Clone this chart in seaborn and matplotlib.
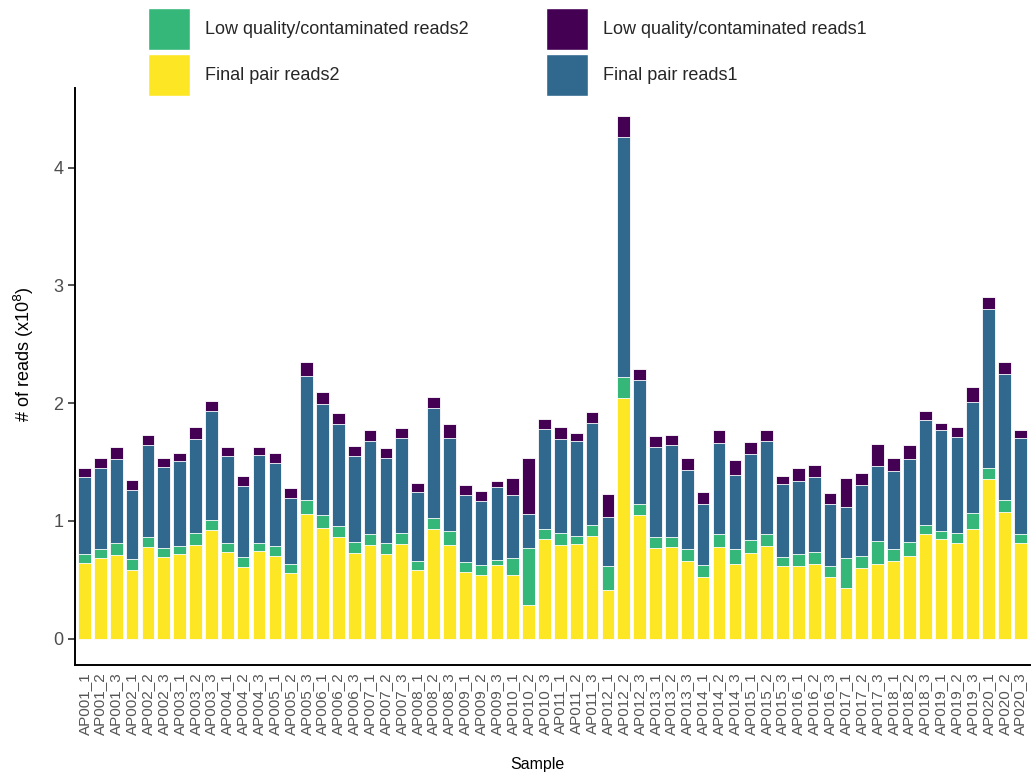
import matplotlib
matplotlib.use("Agg")
import matplotlib.pyplot as plt
from matplotlib.patches import Patch
import seaborn as sns
import numpy as np

# Samples: 20 patients x 3 replicates
samples = [f"AP{p:03d}_{r}" for p in range(1, 21) for r in (1, 2, 3)]

# Read counts per read of the pair (x10^8); reads1 and reads2 carry the same counts
final_pair = [
    0.647, 0.684, 0.714, 0.584, 0.775, 0.690, 0.720, 0.799, 0.927, 0.736,
    0.608, 0.745, 0.699, 0.556, 1.058, 0.942, 0.866, 0.729, 0.796, 0.723,
    0.805, 0.587, 0.936, 0.796, 0.571, 0.541, 0.623, 0.538, 0.289, 0.851,
    0.799, 0.805, 0.872, 0.416, 2.043, 1.055, 0.769, 0.775, 0.663, 0.523,
    0.775, 0.632, 0.729, 0.790, 0.617, 0.617, 0.638, 0.523, 0.435, 0.599,
    0.638, 0.660, 0.705, 0.888, 0.851, 0.812, 0.936, 1.353, 1.073, 0.815,
]
low_quality = [
    0.076, 0.082, 0.101, 0.091, 0.091, 0.079, 0.070, 0.098, 0.082, 0.076,
    0.082, 0.067, 0.091, 0.082, 0.118, 0.107, 0.091, 0.091, 0.091, 0.088,
    0.091, 0.076, 0.091, 0.116, 0.082, 0.088, 0.046, 0.146, 0.480, 0.082,
    0.098, 0.070, 0.091, 0.198, 0.176, 0.091, 0.091, 0.091, 0.103, 0.100,
    0.113, 0.128, 0.107, 0.098, 0.076, 0.106, 0.101, 0.094, 0.249, 0.106,
    0.189, 0.106, 0.116, 0.079, 0.067, 0.085, 0.134, 0.097, 0.103, 0.073,
]

series_labels = [
    "Final pair reads2",
    "Low quality/contaminated reads2",
    "Final pair reads1",
    "Low quality/contaminated reads1",
]
series_colors = ["#FDE725", "#35B779", "#31688E", "#440154"]

sns.set_theme(style="white")
plt.rcParams["font.family"] = ["Liberation Sans", "DejaVu Sans"]

fp2 = np.array(final_pair)
lq2 = np.array(low_quality)
fp1 = np.array(final_pair)
lq1 = np.array(low_quality)
layers = [fp2, lq2, fp1, lq1]
cumulative = np.cumsum(layers, axis=0)

fig = plt.figure(figsize=(10.33, 7.78), dpi=100)
ax = fig.add_axes([0.0726, 0.1452, 0.9244, 0.7417])

# Stack drawn from the top down: each layer covers the cumulative total below it
for i in range(3, -1, -1):
    sns.barplot(
        x=samples, y=cumulative[i], color=series_colors[i], saturation=1,
        width=0.8, edgecolor="white", linewidth=0.6, ax=ax,
    )

ax.set_xlim(-0.6, len(samples) - 0.4)
ax.set_ylim(-0.223, 4.676)
ax.set_yticks([0, 1, 2, 3, 4])
ax.set_yticklabels(["0", "1", "2", "3", "4"])

for side in ("top", "right"):
    ax.spines[side].set_visible(False)
for side in ("left", "bottom"):
    ax.spines[side].set_color("black")
    ax.spines[side].set_linewidth(1.4)

ax.tick_params(axis="y", length=5, width=1.2, color="#333333", labelsize=13,
               labelcolor="#4D4D4D", pad=3.5, left=True)
ax.tick_params(axis="x", length=0, labelsize=11, labelcolor="#555555",
               pad=5, rotation=90)
ax.grid(False)

ax.set_xlabel("Sample", fontsize=11.5, color="black")
ax.set_ylabel("# of reads (x10$^8$)", fontsize=13, color="black")
ax.xaxis.set_label_coords(0.484, -0.16)
ax.yaxis.set_label_coords(-0.041, 0.539)

handles = [
    Patch(facecolor=series_colors[1], edgecolor="white", label=series_labels[1]),
    Patch(facecolor=series_colors[0], edgecolor="white", label=series_labels[0]),
    Patch(facecolor=series_colors[3], edgecolor="white", label=series_labels[3]),
    Patch(facecolor=series_colors[2], edgecolor="white", label=series_labels[2]),
]
fig.legend(
    handles=handles, loc="upper left", bbox_to_anchor=(148 / 1033, 1 - 8 / 778),
    ncol=2, frameon=False, fontsize=13, handlelength=2.33, handleheight=3.2,
    handletextpad=0.83, columnspacing=4.3, labelspacing=0.22,
    borderpad=0, borderaxespad=0,
)

fig.savefig("out.png", dpi=100)
